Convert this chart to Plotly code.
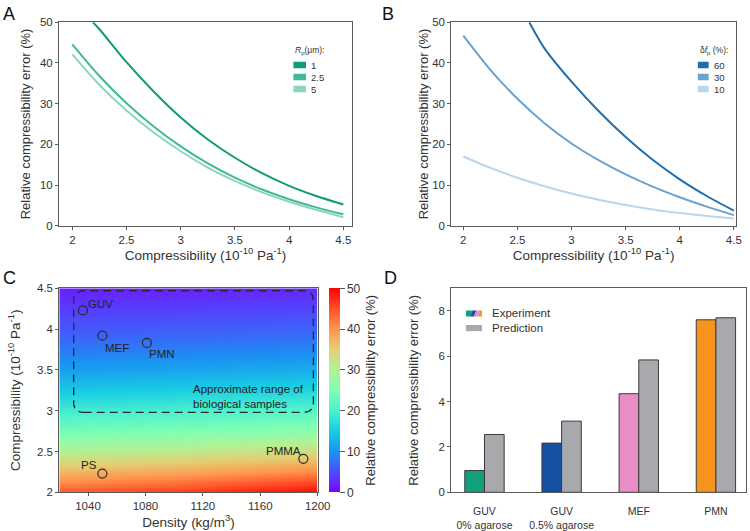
import math
import plotly.graph_objects as go

# ---- data ----
# panel A: error vs compressibility for three probe radii
a_x1 = [2.19, 2.25, 2.5, 2.75, 3.0, 3.25, 3.5, 3.75, 4.0, 4.25, 4.5]
a_y1 = [50, 48.3, 40.2, 33.0, 26.6, 21.2, 16.7, 12.9, 9.8, 7.3, 5.2]
a_x = [2.0, 2.25, 2.5, 2.75, 3.0, 3.25, 3.5, 3.75, 4.0, 4.25, 4.5]
a_y25 = [44.6, 36.8, 30.1, 24.4, 19.5, 15.3, 11.8, 8.9, 6.5, 4.5, 2.8]
a_y5 = [42.1, 34.6, 28.3, 22.9, 18.3, 14.3, 11.0, 8.2, 5.9, 3.9, 2.1]
a_labels = ["1", "2.5", "5"]
a_colors = ["#119a78", "#3eb99a", "#8dd5c1"]

# panel B: error vs compressibility for three frequency shifts
b_x60 = [2.61, 2.75, 3.0, 3.25, 3.5, 3.75, 4.0, 4.25, 4.5]
b_y60 = [50, 43.6, 35.4, 28.2, 21.8, 16.2, 11.4, 7.3, 3.7]
b_x = [2.0, 2.25, 2.5, 2.75, 3.0, 3.25, 3.5, 3.75, 4.0, 4.25, 4.5]
b_y30 = [46.7, 38.3, 31.2, 25.2, 20.2, 16.1, 12.6, 9.6, 7.0, 4.7, 2.6]
b_y10 = [17, 14.2, 11.8, 9.7, 7.9, 6.4, 5.1, 4.0, 3.1, 2.4, 1.8]
b_labels = ["60", "30", "10"]
b_colors = ["#1f6fae", "#6aa3cf", "#bad6ec"]

# panel C: error map over density x compressibility
dens_grid = [1020, 1060, 1100, 1140, 1200]
comp_grid = [2.0, 2.25, 2.5, 2.75, 3.0, 3.25, 3.5, 3.75, 4.0, 4.25, 4.5]
err_grid = [
    [44, 45, 46, 47.5, 49.5],
    [37, 38, 38.5, 39.5, 41],
    [30, 30.5, 31, 32, 33],
    [24, 24.5, 25, 25.5, 26.5],
    [19, 19.3, 19.7, 20.2, 21],
    [14.5, 14.8, 15.1, 15.5, 16],
    [11, 11.2, 11.5, 11.8, 12.2],
    [8, 8.2, 8.4, 8.6, 9],
    [5.8, 5.9, 6.1, 6.3, 6.6],
    [3.8, 3.9, 4.0, 4.2, 4.4],
    [2.0, 2.1, 2.2, 2.3, 2.5],
]
samples = ["GUV", "MEF", "PMN", "PS", "PMMA"]
sample_dens = [1036.5, 1050, 1081, 1050, 1190]
sample_comp = [4.23, 3.92, 3.83, 2.23, 2.41]
# label offsets from the circle, in pixels
label_dx = [18, 15, 15, -13, -20]
label_dy = [6, -12, -11, 9, 8]
bio_box = dict(x0=1030, x1=1197, y0=2.98, y1=4.47)

# panel D: experiment vs prediction
d_cats = ["GUV<br>0% agarose", "GUV<br>0.5% agarose", "MEF", "PMN"]
d_exp = [0.96, 2.17, 4.35, 7.61]
d_pred = [2.55, 3.14, 5.84, 7.70]
d_exp_colors = ["#12a07d", "#1650a0", "#ea8cc6", "#f7941e"]
d_pred_color = "#a8a9ad"

FONT = "Liberation Sans, Arial, sans-serif"
AX = "#5a5a5a"
TXT = "#333333"

# rainbow colormap (matplotlib style)
rainbow = []
for i in range(11):
    t = i / 10
    r = min(1, abs(2 * t - 0.5))
    g = math.sin(math.pi * t)
    b = math.cos(math.pi * t / 2)
    rainbow.append([t, f"rgb({int(r*255)},{int(g*255)},{int(b*255)})"])

fig = go.Figure()

# A
for xs, ys, c in zip([a_x1, a_x, a_x], [a_y1, a_y25, a_y5], a_colors):
    fig.add_trace(go.Scatter(x=xs, y=ys, mode="lines", line=dict(color=c, width=2, shape="spline", smoothing=0.8),
                             showlegend=False, xaxis="x", yaxis="y"))
# B
for xs, ys, c in zip([b_x60, b_x, b_x], [b_y60, b_y30, b_y10], b_colors):
    fig.add_trace(go.Scatter(x=xs, y=ys, mode="lines", line=dict(color=c, width=2, shape="spline", smoothing=0.8),
                             showlegend=False, xaxis="x2", yaxis="y2"))
# C
fig.add_trace(go.Heatmap(x=dens_grid, y=comp_grid, z=err_grid, zmin=0, zmax=50, zsmooth="best",
                         colorscale=rainbow, xaxis="x3", yaxis="y3",
                         colorbar=dict(x=329 / 750, xanchor="left", xpad=0, y=1 - 492.3 / 531, yanchor="bottom",
                                       ypad=0, len=204 / 531, lenmode="fraction", thickness=11, outlinewidth=0,
                                       tickvals=[0, 10, 20, 30, 40, 50], ticks="outside", ticklen=5,
                                       tickcolor=AX, tickfont=dict(size=12, color=TXT),
                                       title=dict(text="Relative compressibility error (%)", side="right",
                                                  font=dict(size=13, color=TXT)))))
fig.add_trace(go.Scatter(x=sample_dens, y=sample_comp, mode="markers",
                         marker=dict(symbol="circle-open", size=9, color="#2a2a2a", line=dict(width=1.2)),
                         showlegend=False, xaxis="x3", yaxis="y3"))
# D
fig.add_trace(go.Bar(x=[0, 1, 2, 3], y=d_exp, width=0.255, offset=-0.255, marker=dict(color=d_exp_colors,
                     line=dict(color="#3a3a3a", width=1)), showlegend=False, xaxis="x4", yaxis="y4"))
fig.add_trace(go.Bar(x=[0, 1, 2, 3], y=d_pred, width=0.255, offset=0, marker=dict(color=d_pred_color,
                     line=dict(color="#3a3a3a", width=1)), showlegend=False, xaxis="x4", yaxis="y4"))


def ax(**kw):
    base = dict(showline=True, mirror=True, linecolor=AX, linewidth=1, ticks="outside", ticklen=3,
                tickcolor=AX, showgrid=False, zeroline=False, tickfont=dict(size=11.5, color=TXT),
                title_font=dict(size=13.5, color=TXT), automargin=False)
    base.update(kw)
    return base


xa_title = "Compressibility (10<sup>-10</sup> Pa<sup>-1</sup>)"
ya_title = "Relative compressibility error (%)"
top_dom = [1 - 225.7 / 531, 1 - 22.3 / 531]
bot_dom = [1 - 492.3 / 531, 1 - 288.3 / 531]

fig.update_layout(
    width=750, height=531, margin=dict(l=0, r=0, t=0, b=0),
    paper_bgcolor="white", plot_bgcolor="white", font=dict(family=FONT, color=TXT),
    barmode="overlay",
    xaxis=ax(domain=[59 / 750, 352 / 750], range=[1.877, 4.58], tickvals=[2, 2.5, 3, 3.5, 4, 4.5],
             title=dict(text=xa_title, standoff=0), anchor="y"),
    yaxis=ax(domain=top_dom, range=[0, 50], tickvals=[0, 10, 20, 30, 40, 50],
             title=dict(text=ya_title, standoff=6, font=dict(size=13)), anchor="x"),
    xaxis2=ax(domain=[451.3 / 750, 736 / 750], range=[1.889, 4.52], tickvals=[2, 2.5, 3, 3.5, 4, 4.5],
              title=dict(text=xa_title, standoff=0), anchor="y2"),
    yaxis2=ax(domain=top_dom, range=[0, 50], tickvals=[0, 10, 20, 30, 40, 50],
              title=dict(text=ya_title, standoff=0, font=dict(size=13)), anchor="x2"),
    xaxis3=ax(domain=[59.3 / 750, 317.7 / 750], range=[1020, 1200], tickvals=[1040, 1080, 1120, 1160, 1200],
              title=dict(text="Density (kg/m<sup>3</sup>)", standoff=0), anchor="y3"),
    yaxis3=ax(domain=bot_dom, range=[2, 4.5], tickvals=[2, 2.5, 3, 3.5, 4, 4.5],
              title=dict(text="Compressibility (10<sup>-10</sup> Pa<sup>-1</sup>)", standoff=13), anchor="x3"),
    xaxis4=ax(domain=[451.3 / 750, 746 / 750], range=[-0.43, 3.39], tickvals=[0, 1, 2, 3], ticktext=d_cats,
              ticks="outside", ticklen=9, tickcolor="rgba(0,0,0,0)", tickfont=dict(size=10.5, color=TXT),
              anchor="y4"),
    yaxis4=ax(domain=bot_dom, range=[0, 9], tickvals=[0, 2, 4, 6, 8],
              title=dict(text=ya_title, standoff=17, font=dict(size=13)), anchor="x4"),
)

shapes = []
ann = []

# panel letters
for lab, x, y in [("A", 1, 2), ("B", 380, 2), ("C", 1, 266), ("D", 382, 266)]:
    ann.append(dict(text=lab, x=x / 750, y=1 - y / 531, xref="paper", yref="paper", xanchor="left",
                    yanchor="top", showarrow=False, font=dict(size=18, color="#111")))

# sample labels next to circles
for name, xd, yc, dx, dy in zip(samples, sample_dens, sample_comp, label_dx, label_dy):
    ann.append(dict(text=name, x=xd, y=yc, xref="x3", yref="y3", xshift=dx, yshift=dy, showarrow=False,
                    xanchor="center", yanchor="middle", font=dict(size=11.5, color="#222")))

# rounded dashed box for biological range
x0, x1, y0, y1 = bio_box["x0"], bio_box["x1"], bio_box["y0"], bio_box["y1"]
rx, ry = 7, 0.12
path = (f"M {x0+rx},{y0} L {x1-rx},{y0} Q {x1},{y0} {x1},{y0+ry} L {x1},{y1-ry} Q {x1},{y1} {x1-rx},{y1} "
        f"L {x0+rx},{y1} Q {x0},{y1} {x0},{y1-ry} L {x0},{y0+ry} Q {x0},{y0} {x0+rx},{y0} Z")
shapes.append(dict(type="path", path=path, xref="x3", yref="y3",
                   line=dict(color="#2a2a2a", width=1.3, dash="8px,5px")))
ann.append(dict(text="Approximate range of<br>biological samples", x=1192, y=3.18, xref="x3", yref="y3",
                xanchor="right", yanchor="middle", align="left", showarrow=False,
                font=dict(size=11.5, color="#222")))


# legends of A and B drawn as swatches
def swatch_legend(xref, yref, title, labels, colors, sx0, sx1, tx):
    ann.append(dict(text=title, x=sx0, y=0.862, xref=xref, yref=yref, xanchor="left", yanchor="middle",
                    showarrow=False, font=dict(size=8.5, color=TXT)))
    for i, (lab, c) in enumerate(zip(labels, colors)):
        yc = 0.79 - i * 0.059
        shapes.append(dict(type="rect", xref=xref, yref=yref, x0=sx0, x1=sx1, y0=yc - 0.016, y1=yc + 0.016,
                           fillcolor=c, line=dict(width=0)))
        ann.append(dict(text=lab, x=tx, y=yc, xref=xref, yref=yref, xanchor="left", yanchor="middle",
                        showarrow=False, font=dict(size=9.5, color=TXT)))


swatch_legend("x domain", "y domain", "<i>R</i><sub>p</sub>(μm):", a_labels, a_colors, 0.80, 0.843, 0.852)
swatch_legend("x2 domain", "y2 domain", "δ<i>f</i><sub>p</sub> (%):", b_labels, b_colors, 0.866, 0.904, 0.915)

# legend of D: striped experiment swatch + grey prediction swatch
sx0, sx1, sy0, sy1 = 0.05, 0.104, 0.862, 0.891
n = len(d_exp_colors)
w = (sx1 - sx0) / n
s = 0.008
for i, c in enumerate(d_exp_colors):
    xl_b = sx0 + i * w
    xl_t = xl_b + (s if i > 0 else 0)
    xr_b = sx0 + (i + 1) * w
    xr_t = xr_b + (s if i < n - 1 else 0)
    if i == n - 1:
        xr_b = xr_t = sx1
    p = f"M {xl_b},{sy0} L {xr_b},{sy0} L {xr_t},{sy1} L {xl_t},{sy1} Z"
    shapes.append(dict(type="path", path=p, xref="x4 domain", yref="y4 domain", fillcolor=c,
                       line=dict(width=0)))
shapes.append(dict(type="rect", xref="x4 domain", yref="y4 domain", x0=sx0, x1=sx1, y0=0.79, y1=0.82,
                   fillcolor=d_pred_color, line=dict(width=0)))
for lab, yc in [("Experiment", 0.877), ("Prediction", 0.805)]:
    ann.append(dict(text=lab, x=0.13, y=yc, xref="x4 domain", yref="y4 domain", xanchor="left",
                    yanchor="middle", showarrow=False, font=dict(size=11.5, color=TXT)))

fig.update_layout(shapes=shapes, annotations=ann)

# the page has a default 8px body margin; drop it so the figure fills the window
fig.write_html("out.html", config={"displayModeBar": False},
               post_script="document.body.style.margin='0';")
